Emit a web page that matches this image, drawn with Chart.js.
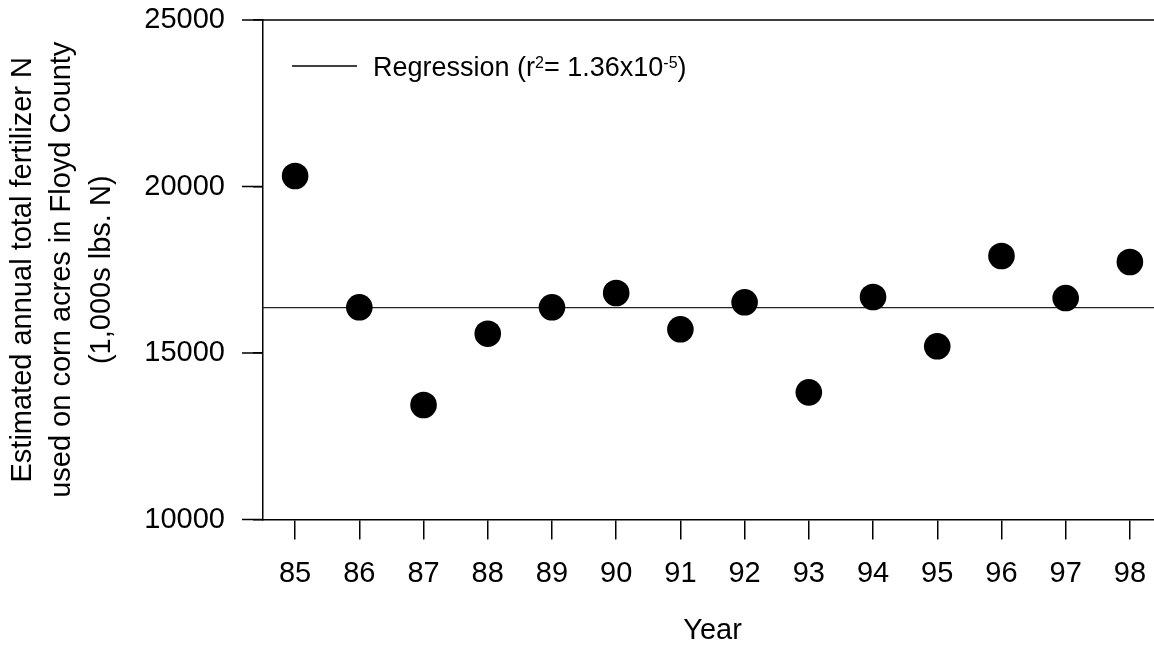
<!DOCTYPE html>
<html><head><meta charset="utf-8">
<script src="https://cdn.jsdelivr.net/npm/chart.js@4"></script>
<style>html,body{margin:0;padding:0;overflow:hidden;background:#fff;width:1154px;height:645px}canvas{display:block}</style>
</head><body>
<canvas id="c" width="1162" height="645"></canvas>
<script>
const years = [85, 86, 87, 88, 89, 90, 91, 92, 93, 94, 95, 96, 97, 98];
const values = [20315, 16372, 13438, 15580, 16372, 16802, 15711, 16522, 13819, 16682, 15201, 17913, 16650, 17733];
const regressionX = [84.5, 98.5];
const regressionY = [16365, 16365];
const yTickValues = [10000, 11000, 12000, 13000, 14000, 15000, 16000, 17000, 18000, 19000, 20000, 21000, 22000, 23000, 24000, 25000];
const yLabelTicks = [10000, 15000, 20000, 25000];
const xRange = [84.5, 98.5];
const yRange = [10000, 25000];
const legendLabel = ['Regression (r', '2', '= 1.36x10', '-5', ')'];

const FONT = "'Liberation Sans', Arial, sans-serif";

const framePlugin = {
  id: 'frame',
  afterDraw(chart) {
    const {ctx, chartArea: a, scales: {y}} = chart;
    ctx.save();
    ctx.strokeStyle = '#000';
    ctx.lineWidth = 1.5;
    ctx.beginPath();
    const top = y.getPixelForValue(yRange[1]);
    ctx.moveTo(a.left - 21, top); ctx.lineTo(a.right, top);
    yLabelTicks.forEach(v => {
      const p = y.getPixelForValue(v);
      ctx.moveTo(a.left - 21, p); ctx.lineTo(a.left, p);
    });
    ctx.stroke();
    // legend
    const lx = a.left + 29, ly = a.top + 46;
    ctx.lineWidth = 1.3;
    ctx.beginPath();
    ctx.moveTo(lx, ly); ctx.lineTo(lx + 65, ly);
    ctx.stroke();
    ctx.fillStyle = '#000';
    ctx.textBaseline = 'alphabetic';
    ctx.textAlign = 'left';
    let x = lx + 81;
    const base = ly + 10;
    legendLabel.forEach((t, i) => {
      const sup = i % 2 === 1;
      ctx.font = (sup ? '16px ' : '27px ') + FONT;
      ctx.fillText(t, x, sup ? base - 8 : base);
      x += ctx.measureText(t).width;
    });
    ctx.restore();
  }
};

new Chart(document.getElementById('c'), {
  type: 'scatter',
  data: {
    datasets: [
      {
        type: 'scatter',
        data: years.map((yr, i) => ({x: yr, y: values[i]})),
        backgroundColor: '#000',
        borderColor: '#000',
        borderWidth: 0,
        pointRadius: 13.3,
        pointHoverRadius: 13.3
      },
      {
        type: 'line',
        data: regressionX.map((xv, i) => ({x: xv, y: regressionY[i]})),
        borderColor: '#222',
        borderWidth: 1.3,
        pointRadius: 0,
        fill: false
      }
    ]
  },
  options: {
    responsive: false,
    animation: false,
    events: [],
    layout: {autoPadding: false, padding: {top: 20, left: 0, right: 0, bottom: 0}},
    plugins: {legend: {display: false}, tooltip: {enabled: false}},
    scales: {
      x: {
        type: 'linear',
        min: xRange[0], max: xRange[1],
        afterBuildTicks: s => { s.ticks = years.map(v => ({value: v})); },
        afterFit: s => { s.height = 125.5; s.paddingLeft = 0; s.paddingRight = 0; },
        grid: {drawOnChartArea: false, drawTicks: true, tickLength: 20, color: '#000', lineWidth: 1.5},
        border: {display: true, color: '#000', width: 1.5},
        ticks: {color: '#000', font: {family: FONT, size: 29}, padding: 17, maxRotation: 0, autoSkip: false,
          callback: v => String(v)},
        title: {display: true, text: 'Year', color: '#000', font: {family: FONT, size: 29, lineHeight: 1}, padding: {top: 0, bottom: 0}}
      },
      y: {
        type: 'linear',
        min: yRange[0], max: yRange[1],
        afterBuildTicks: s => { s.ticks = yTickValues.map(v => ({value: v})); },
        afterFit: s => { s.width = 263; s.paddingTop = 0; s.paddingBottom = 0; },
        grid: {drawOnChartArea: false, drawTicks: true, tickLength: 10, color: '#000', lineWidth: 1.5},
        border: {display: true, color: '#000', width: 1.5},
        ticks: {color: '#000', font: {family: FONT, size: 29}, padding: 28, autoSkip: false,
          callback: v => yLabelTicks.includes(v) ? String(v) : null},
        title: {display: true,
          text: ['Estimated annual total fertilizer N', 'used on corn acres in Floyd County', '(1,000s lbs. N)'],
          color: '#000', font: {family: FONT, size: 29, lineHeight: 1.36}, padding: {top: 3, bottom: 0}}
      }
    }
  },
  plugins: [framePlugin]
});
</script>
</body></html>
